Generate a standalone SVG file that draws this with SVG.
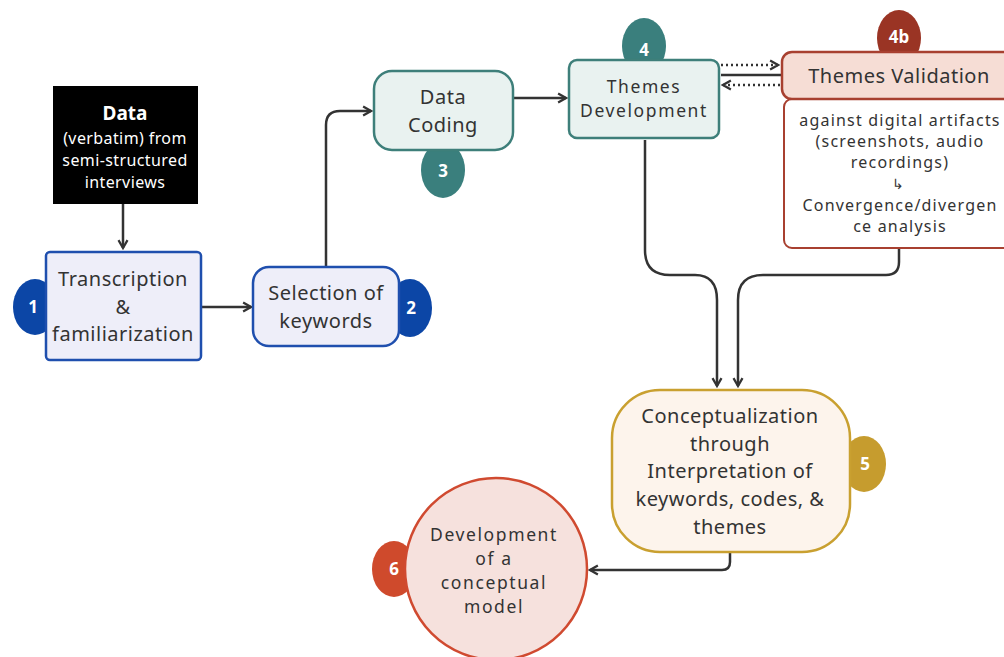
<svg xmlns="http://www.w3.org/2000/svg" width="1004" height="657" viewBox="0 0 1004 657">
<defs>
<marker id="ah" viewBox="0 0 10 10" refX="8" refY="5" markerWidth="4.5" markerHeight="4.5" orient="auto-start-reverse" markerUnits="strokeWidth">
<path d="M1,1 L8,5 L1,9" fill="none" stroke="#333" stroke-width="2"/>
</marker>
<style>
text{font-family:"Noto Sans","Open Sans",sans-serif;fill:#333;text-anchor:middle}
.t{font-size:20px;letter-spacing:0.5px}
.m{font-size:17.5px;letter-spacing:1.6px}
.s{font-size:16px;letter-spacing:1.2px}
.w{fill:#fff;font-size:16px;letter-spacing:0.4px}
.b{font-family:"Noto Sans",sans-serif;font-weight:bold;fill:#fff;font-size:17px}
.c{fill:none;stroke:#333;stroke-width:2.5}
.d{fill:none;stroke:#333;stroke-width:2.5;stroke-dasharray:2 3}
</style>
</defs>
<rect width="1004" height="657" fill="#fff"/>

<g id="connectors">
<path class="c" d="M123,204 V248" marker-end="url(#ah)"/>
<path class="c" d="M201,307 H251" marker-end="url(#ah)"/>
<path class="c" d="M326,266 V125 Q326,111 340,111 H371" marker-end="url(#ah)"/>
<path class="c" d="M513,98 H566" marker-end="url(#ah)"/>
<path class="d" d="M721,65 H778" marker-end="url(#ah)"/>
<path class="c" d="M721,75 H783"/>
<path class="d" d="M780,85 H723" marker-end="url(#ah)"/>
<path class="c" d="M645,140 V250 Q645,275 670,275 H695 Q717,275 717,300 V386" marker-end="url(#ah)"/>
<path class="c" d="M899,248 V262 Q899,275 886,275 H763 Q738,275 738,300 V386" marker-end="url(#ah)"/>
<path class="c" d="M730,552 V562 Q730,570 722,570 H590" marker-end="url(#ah)"/>
</g>

<g id="n-data">
<rect x="53" y="86" width="145" height="118" fill="#000"/>
<text x="125" y="120" style="font-weight:bold;fill:#fff;font-size:19px">Data</text>
<text x="125" y="144" class="w">(verbatim) from</text>
<text x="125" y="166" class="w">semi-structured</text>
<text x="125" y="188" class="w">interviews</text>
</g>

<g id="n1">
<ellipse cx="35" cy="307" rx="22" ry="28" fill="#0c46a6"/>
<text x="33" y="313" class="b">1</text>
<rect x="46" y="252" width="155" height="108" rx="4" fill="#eeeef9" stroke="#1f4fae" stroke-width="2.5"/>
<text x="123" y="286" class="t">Transcription</text>
<text x="123" y="314" class="t">&amp;</text>
<text x="123" y="341" class="t">familiarization</text>
</g>

<g id="n2">
<ellipse cx="410" cy="308" rx="22" ry="29" fill="#0c46a6"/>
<text x="411" y="314" class="b">2</text>
<rect x="253" y="267" width="146" height="79" rx="16" fill="#eeeef9" stroke="#1f4fae" stroke-width="2.5"/>
<text x="326" y="300" class="t">Selection of</text>
<text x="326" y="328" class="t">keywords</text>
</g>

<g id="n3">
<ellipse cx="443" cy="170" rx="22" ry="28" fill="#3a7f7d"/>
<text x="443" y="177" class="b">3</text>
<rect x="374" y="71" width="139" height="79" rx="18" fill="#e9f2f0" stroke="#3e7f7a" stroke-width="2.5"/>
<text x="443" y="104" class="t">Data</text>
<text x="443" y="132" class="t">Coding</text>
</g>

<g id="n4">
<ellipse cx="644" cy="46" rx="22" ry="28" fill="#3a7f7d"/>
<text x="644" y="56" class="b">4</text>
<rect x="569" y="60" width="150" height="78" rx="8" fill="#e9f2f0" stroke="#3e7f7a" stroke-width="2.5"/>
<text x="644" y="93" class="m">Themes</text>
<text x="644" y="117" class="m">Development</text>
</g>

<g id="n4b">
<ellipse cx="899" cy="38" rx="22" ry="28" fill="#9a3424"/>
<text x="899" y="43" class="b">4b</text>
<rect x="784" y="99" width="240" height="149" rx="8" fill="#fff" stroke="#a84030" stroke-width="2"/>
<rect x="782" y="52" width="242" height="47" rx="10" fill="#f6ddd5" stroke="#a84030" stroke-width="2.5"/>
<text x="899" y="83" class="t">Themes Validation</text>
<text x="900" y="126" class="s">against digital artifacts</text>
<text x="900" y="147" class="s">(screenshots, audio</text>
<text x="900" y="168" class="s">recordings)</text>
<text x="898" y="189" style="font-size:14px">↳</text>
<text x="900" y="211" class="s">Convergence/divergen</text>
<text x="900" y="232" class="s">ce analysis</text>
</g>

<g id="n5">
<ellipse cx="864" cy="464" rx="22" ry="28" fill="#c69c2e"/>
<text x="865" y="470" class="b">5</text>
<rect x="612" y="390" width="238" height="162" rx="48" fill="#fdf4ec" stroke="#c9a030" stroke-width="2.5"/>
<text x="730" y="423" class="t">Conceptualization</text>
<text x="730" y="451" class="t">through</text>
<text x="730" y="478" class="t">Interpretation of</text>
<text x="730" y="506" class="t">keywords, codes, &amp;</text>
<text x="730" y="534" class="t">themes</text>
</g>

<g id="n6">
<ellipse cx="394" cy="569" rx="22" ry="28" fill="#cf4a2c"/>
<text x="394" y="575" class="b">6</text>
<circle cx="496" cy="569" r="91" fill="#f6e1dd" stroke="#d04a30" stroke-width="2.5"/>
<text x="494" y="541" class="m">Development</text>
<text x="494" y="565" class="m">of a</text>
<text x="494" y="589" class="m">conceptual</text>
<text x="494" y="613" class="m">model</text>
</g>
</svg>
